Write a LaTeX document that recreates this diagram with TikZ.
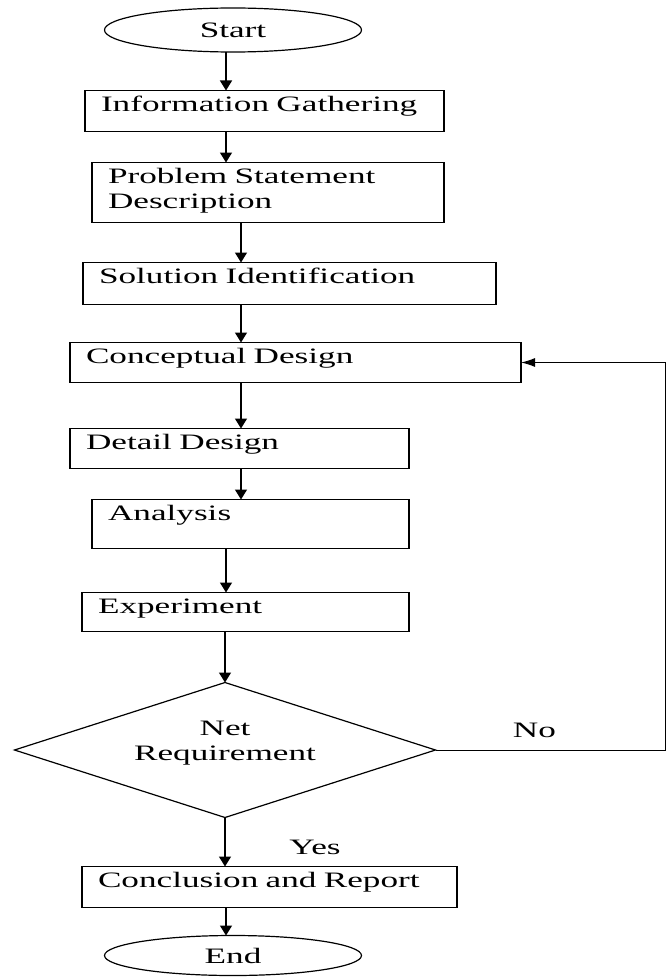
\documentclass[tikz,border=0pt]{standalone}
\usepackage{fontspec}
\setmainfont{Liberation Serif}[FakeStretch=1.6]
\usetikzlibrary{arrows.meta, positioning, shapes.geometric}
\tikzset{box/.style={rectangle,draw,line width=1.2pt,outer sep=0pt,align=left,inner xsep=16pt,inner ysep=3pt,text height=18pt},
term/.style={ellipse,draw,line width=1.2pt,outer sep=0pt,minimum width=257pt,minimum height=44pt,inner sep=0pt},
decision/.style={diamond,draw,line width=1.2pt,outer sep=0pt,aspect=3.1,minimum width=421pt,minimum height=135pt,align=center,inner sep=0pt,text height=40pt,text depth=19pt},
line/.style={-{Triangle[length=10pt,width=12pt]},line width=1.5pt},
back/.style={-{Latex[length=14pt,width=9pt]},line width=1pt}}

\begin{document}
\begin{tikzpicture}[font=\fontsize{22}{25}\selectfont]
\useasboundingbox (0pt,0pt) rectangle (670pt,-979pt);
\coordinate (c1) at (226pt,0pt);
\coordinate (c2) at (241pt,0pt);
\node[term] (start) at (233pt,-30pt) {Start};
\node[box, below=38.5pt of start.south, anchor=north west, xshift=-148pt, text width=327pt, text depth=17pt] (info) {Information Gathering};
\node[box, below=31pt of info.south west, anchor=north west, xshift=7pt, text width=320pt, text depth=36pt] (prob) {Problem Statement\\Description};
\node[box, below=40pt of prob.south west, anchor=north west, xshift=-9pt, text width=381pt, text depth=18pt] (sol) {Solution Identification};
\node[box, below=38pt of sol.south west, anchor=north west, xshift=-13pt, text width=419pt, text depth=16pt] (concept) {Conceptual Design};
\node[box, below=46pt of concept.south west, anchor=north west, text width=307pt, text depth=16pt] (detail) {Detail Design};
\node[box, below=31pt of detail.south west, anchor=north west, xshift=22pt, text width=285pt, text depth=25pt] (anal) {Analysis};
\node[box, below=44pt of anal.south west, anchor=north west, xshift=-10pt, text width=295pt, text depth=15pt] (exp) {Experiment};
\node[decision, below=51pt of exp.south west, anchor=north, xshift=143pt] (dec) {Net\\Requirement};
\node[box, below=49pt of dec.south, anchor=north west, xshift=-143pt, text width=343pt, text depth=17pt] (concl) {Conclusion and Report};
\node[term, below=28pt of concl.south west, anchor=north, xshift=151pt, minimum height=40pt] (end) {End};
\node (no) at ([xshift=99pt,yshift=20pt]dec.east) {No};
\node (yes) at ([xshift=90pt,yshift=-30pt]dec.south) {Yes};
\coordinate[right=230pt of dec.east] (corner);

\draw[line] (start.south -| c1) -- (info.north -| c1);
\draw[line] (info.south -| c1) -- (prob.north -| c1);
\draw[line] (prob.south -| c2) -- (sol.north -| c2);
\draw[line] (sol.south -| c2) -- (concept.north -| c2);
\draw[line] (concept.south -| c2) -- (detail.north -| c2);
\draw[line] (detail.south -| c2) -- (anal.north -| c2);
\draw[line] (anal.south -| c1) -- (exp.north -| c1);
\draw[line] (exp.south -| dec.north) -- (dec.north);
\draw[line] (dec.south) -- (concl.north -| dec.south);
\draw[line] (concl.south -| c1) -- (end.north -| c1);
\draw[back] (dec.east) -- (corner) |- (concept.east);
\end{tikzpicture}
\end{document}
